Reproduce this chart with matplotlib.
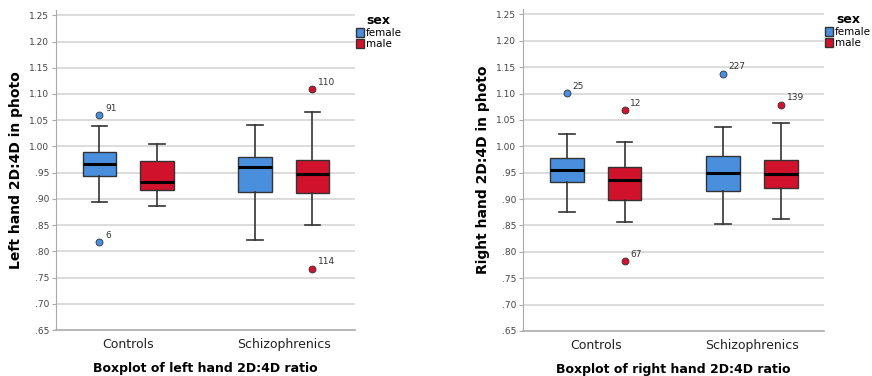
import matplotlib.pyplot as plt
from matplotlib.patches import Patch

# group / sex layout
groups = ["Controls", "Schizophrenics"]
sexes = ["female", "male"]
colors = {"female": "#4a8fde", "male": "#d0122c"}

# left hand 2D:4D: (whislo, q1, med, q3, whishi) for CF, CM, SF, SM
left_stats = [
    (0.895, 0.943, 0.967, 0.989, 1.039),
    (0.886, 0.917, 0.933, 0.972, 1.004),
    (0.822, 0.913, 0.960, 0.980, 1.041),
    (0.850, 0.912, 0.948, 0.974, 1.066),
]
left_fliers = [[1.060, 0.818], [], [], [1.110, 0.767]]
left_flier_ids = [["91", "6"], [], [], ["110", "114"]]

# right hand 2D:4D
right_stats = [
    (0.875, 0.932, 0.955, 0.978, 1.024),
    (0.857, 0.899, 0.936, 0.960, 1.009),
    (0.852, 0.916, 0.950, 0.982, 1.037),
    (0.863, 0.921, 0.948, 0.974, 1.044),
]
right_fliers = [[1.101], [1.069, 0.783], [1.138], [1.079]]
right_flier_ids = [["25"], ["12", "67"], ["227"], ["139"]]

yticks = [0.65, 0.70, 0.75, 0.80, 0.85, 0.90, 0.95, 1.00, 1.05, 1.10, 1.15, 1.20, 1.25]


def fmt(v):
    s = "%.2f" % v
    return s[1:] if s.startswith("0") else s


def draw(ax, stats, fliers, ids, ylabel, xlabel):
    offset = 0.185
    width = 0.215
    items = []
    positions = []
    cols = []
    for i, (lo, q1, med, q3, hi) in enumerate(stats):
        g = i // 2
        s = sexes[i % 2]
        items.append({"whislo": lo, "q1": q1, "med": med, "q3": q3,
                      "whishi": hi, "fliers": []})
        positions.append(g + (-offset if s == "female" else offset))
        cols.append(colors[s])
    bp = ax.bxp(items, positions=positions, widths=width, capwidths=0.1,
                patch_artist=True, showfliers=False,
                boxprops=dict(edgecolor="#333333", linewidth=1.0),
                medianprops=dict(color="black", linewidth=2.2),
                whiskerprops=dict(color="#333333", linewidth=1.2),
                capprops=dict(color="#333333", linewidth=1.2),
                manage_ticks=False, zorder=3)
    for patch, c in zip(bp["boxes"], cols):
        patch.set_facecolor(c)
    for pos, c, fl, lab in zip(positions, cols, fliers, ids):
        for v, t in zip(fl, lab):
            ax.plot(pos, v, "o", color=c, markersize=5,
                    markeredgecolor="#333333", markeredgewidth=0.6, zorder=4)
            ax.annotate(t, (pos, v), xytext=(4, 3), textcoords="offset points",
                        fontsize=6.5, color="#333333")

    ax.set_xlim(-0.465, 1.46)
    ax.set_ylim(0.65, 1.26)
    ax.set_yticks(yticks)
    ax.set_yticklabels([fmt(v) for v in yticks], fontsize=6.5, color="#444444")
    ax.set_xticks([0, 1])
    ax.set_xticklabels(groups, fontsize=9, color="#222222")
    ax.tick_params(axis="x", length=0, pad=6)
    ax.tick_params(axis="y", length=3, color="#aaaaaa", pad=2)
    for v in yticks[1:]:
        ax.axhline(v, color="#d9d9d9", linewidth=1.3, zorder=0)
    for sp in ["top", "right"]:
        ax.spines[sp].set_visible(False)
    ax.spines["left"].set_color("#aaaaaa")
    ax.spines["bottom"].set_color("#aaaaaa")
    ax.spines["bottom"].set_linewidth(1.2)
    ax.set_ylabel(ylabel, fontsize=10, fontweight="bold", labelpad=4)
    ax.set_xlabel(xlabel, fontsize=9, fontweight="bold", labelpad=8)

    handles = [Patch(facecolor=colors[s], edgecolor="#333333", label=s) for s in sexes]
    leg = ax.legend(handles=handles, title="sex", loc="upper left",
                    bbox_to_anchor=(0.99, 1.0), frameon=False, fontsize=7.5,
                    handlelength=0.75, handleheight=0.9, handletextpad=0.15,
                    labelspacing=0.1, borderaxespad=0.2, borderpad=0.2)
    leg.get_title().set_fontweight("bold")
    leg.get_title().set_fontsize(9)


fig = plt.figure(figsize=(8.72, 3.76), dpi=100)
ax1 = fig.add_axes([0.0642, 0.1223, 0.3429, 0.851])
ax2 = fig.add_axes([0.5998, 0.1197, 0.3452, 0.856])

draw(ax1, left_stats, left_fliers, left_flier_ids,
     "Left hand 2D:4D in photo", "Boxplot of left hand 2D:4D ratio")
draw(ax2, right_stats, right_fliers, right_flier_ids,
     "Right hand 2D:4D in photo", "Boxplot of right hand 2D:4D ratio")

fig.savefig("out.png", dpi=100)
